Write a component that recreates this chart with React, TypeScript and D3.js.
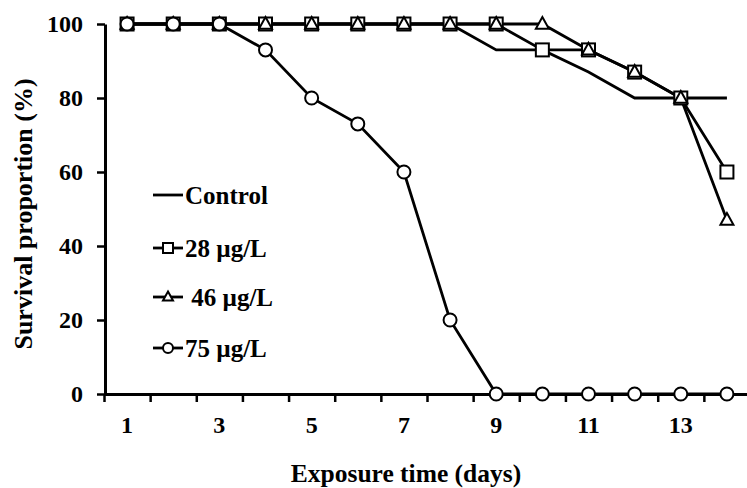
import React, { useEffect, useRef } from 'react'
import * as d3 from 'd3'

const days = [1, 2, 3, 4, 5, 6, 7, 8, 9, 10, 11, 12, 13, 14]
const control = [100, 100, 100, 100, 100, 100, 100, 100, 93, 93, 87, 80, 80, 80]
const conc28 = [100, 100, 100, 100, 100, 100, 100, 100, 100, 93, 93, 87, 80, 60]
const conc46 = [100, 100, 100, 100, 100, 100, 100, 100, 100, 100, 93, 87, 80, 47]
const conc75 = [100, 100, 100, 93, 80, 73, 60, 20, 0, 0, 0, 0, 0, 0]
const xLabels = [1, 3, 5, 7, 9, 11, 13]
const yTicks = [0, 20, 40, 60, 80, 100]
const seriesNames = ['Control', '28 µg/L', ' 46 µg/L', '75 µg/L']

const W = 747
const H = 488
const FONT = '"Liberation Serif", "Times New Roman", serif'

type Marker = 'none' | 'square' | 'triangle' | 'circle'

const drawMarker = (g: any, kind: Marker, x: number, y: number, s: number) => {
  if (kind === 'square') {
    g.append('rect').attr('x', x - s / 2).attr('y', y - s / 2).attr('width', s).attr('height', s)
      .attr('fill', '#fff').attr('stroke', '#000').attr('stroke-width', 2)
  } else if (kind === 'triangle') {
    const h = s * 0.9
    g.append('path')
      .attr('d', `M${x},${y - h * 0.6} L${x + s / 2},${y + h * 0.4} L${x - s / 2},${y + h * 0.4} Z`)
      .attr('fill', '#fff').attr('stroke', '#000').attr('stroke-width', 2)
  } else if (kind === 'circle') {
    g.append('circle').attr('cx', x).attr('cy', y).attr('r', s / 2)
      .attr('fill', '#fff').attr('stroke', '#000').attr('stroke-width', 2)
  }
}

const App = () => {
  const ref = useRef<SVGSVGElement>(null)

  useEffect(() => {
    const svg = d3.select(ref.current)
    svg.selectAll('*').remove()

    const x = d3.scaleLinear().domain([0.5, 14.5]).range([104, 750])
    const y = d3.scaleLinear().domain([0, 100]).range([394, 24])

    // y axis
    const yAxis = svg.append('g')
      .attr('transform', 'translate(105,0)')
      .call(d3.axisLeft(y).tickValues(yTicks).tickSize(8).tickSizeOuter(0))
    yAxis.select('.domain').attr('stroke-width', 3)
    yAxis.selectAll('.tick line').attr('stroke-width', 2.5)
    yAxis.selectAll('.tick text')
      .attr('font-family', FONT).attr('font-weight', 'bold').attr('font-size', 24)
      .attr('fill', '#000').attr('x', -22)

    // x axis: ticks between categories
    const bounds = d3.range(0.5, 15, 1)
    const xAxis = svg.append('g')
      .attr('transform', 'translate(0,394)')
      .call(d3.axisBottom(x).tickValues(bounds).tickFormat(() => '').tickSize(8).tickSizeOuter(0))
    xAxis.select('.domain').attr('stroke-width', 3)
    xAxis.selectAll('.tick line').attr('stroke-width', 2.5)

    svg.append('g').selectAll('text').data(xLabels).enter().append('text')
      .attr('x', d => x(d)).attr('y', 433)
      .attr('text-anchor', 'middle')
      .attr('font-family', FONT).attr('font-weight', 'bold').attr('font-size', 24)
      .text(d => d)

    // titles
    svg.append('text')
      .attr('x', 406).attr('y', 482).attr('text-anchor', 'middle')
      .attr('font-family', FONT).attr('font-weight', 'bold').attr('font-size', 25.5)
      .text('Exposure time (days)')
    svg.append('text')
      .attr('transform', 'translate(32,214) rotate(-90)').attr('text-anchor', 'middle')
      .attr('font-family', FONT).attr('font-weight', 'bold').attr('font-size', 26)
      .text('Survival proportion (%)')

    const series: { values: number[]; marker: Marker }[] = [
      { values: control, marker: 'none' },
      { values: conc28, marker: 'square' },
      { values: conc46, marker: 'triangle' },
      { values: conc75, marker: 'circle' },
    ]

    const line = d3.line<number>().x((_, i) => x(days[i])).y(d => y(d))

    series.forEach(s => {
      svg.append('path').datum(s.values).attr('d', line)
        .attr('fill', 'none').attr('stroke', '#000').attr('stroke-width', 2.8)
    })
    series.forEach(s => {
      const g = svg.append('g')
      s.values.forEach((v, i) => drawMarker(g, s.marker, x(days[i]), y(v), 13))
    })

    // legend
    const legendY = [195, 248, 297, 348]
    const leg = svg.append('g')
    series.forEach((s, i) => {
      leg.append('line').attr('x1', 153).attr('x2', 183).attr('y1', legendY[i]).attr('y2', legendY[i])
        .attr('stroke', '#000').attr('stroke-width', 2.8)
      drawMarker(leg, s.marker, 168, legendY[i], 10)
      leg.append('text')
        .attr('x', 185).attr('y', legendY[i] + 9)
        .attr('font-family', FONT).attr('font-weight', 'bold').attr('font-size', 25)
        .style('white-space', 'pre')
        .text(seriesNames[i])
    })
  }, [])

  return (
    <svg ref={ref} width={W} height={H} style={{ position: 'absolute', left: 0, top: 0, background: '#fff' }}></svg>
  )
}

export default App
